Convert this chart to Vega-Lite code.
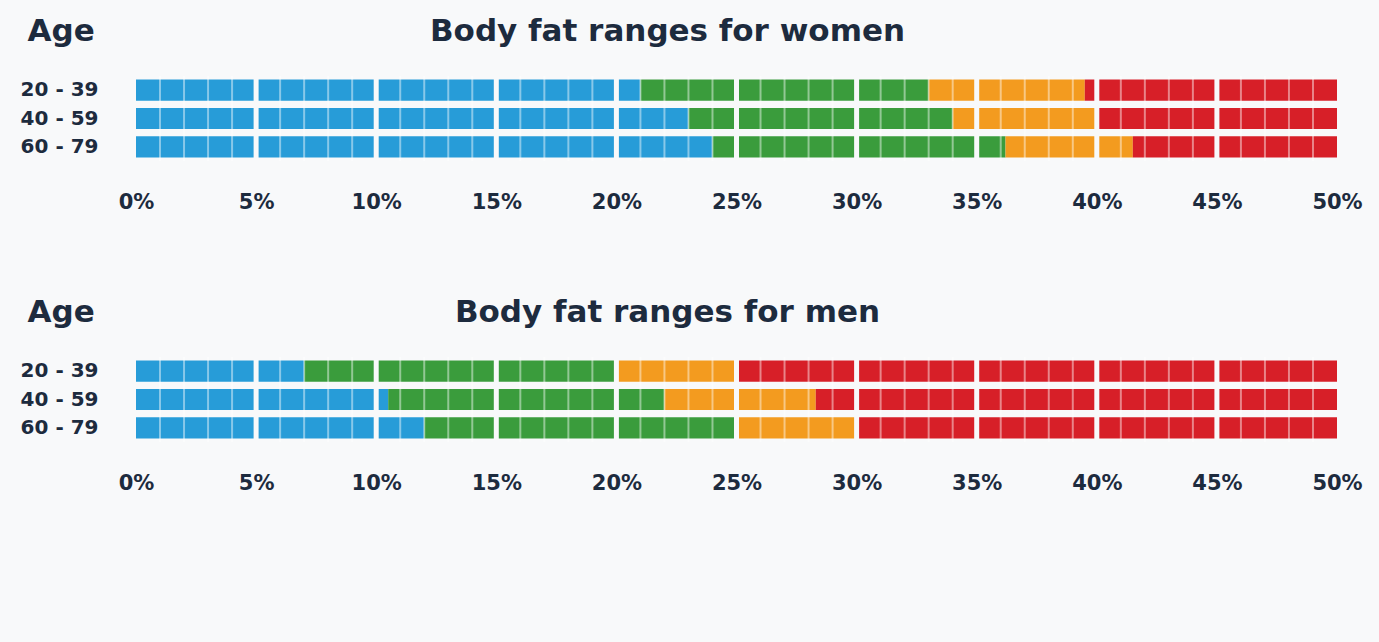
{
  "$schema": "https://vega.github.io/schema/vega-lite/v6.json",
  "background": "#f8f9fa",
  "padding": {"left": 20, "top": 15, "right": 17, "bottom": 149},
  "config": {"font": "DejaVu Sans", "view": {"stroke": null}},
  "bounds": "flush",
  "spacing": 196,
  "datasets": {
    "ranges": [
      {"group": "women", "age": "20 - 39", "level": "Underfat", "from": 0, "to": 21},
      {"group": "women", "age": "20 - 39", "level": "Healthy", "from": 21, "to": 33},
      {"group": "women", "age": "20 - 39", "level": "Overweight", "from": 33, "to": 39.5},
      {"group": "women", "age": "20 - 39", "level": "Obese", "from": 39.5, "to": 50},
      {"group": "women", "age": "40 - 59", "level": "Underfat", "from": 0, "to": 23},
      {"group": "women", "age": "40 - 59", "level": "Healthy", "from": 23, "to": 34},
      {"group": "women", "age": "40 - 59", "level": "Overweight", "from": 34, "to": 40},
      {"group": "women", "age": "40 - 59", "level": "Obese", "from": 40, "to": 50},
      {"group": "women", "age": "60 - 79", "level": "Underfat", "from": 0, "to": 24},
      {"group": "women", "age": "60 - 79", "level": "Healthy", "from": 24, "to": 36.2},
      {"group": "women", "age": "60 - 79", "level": "Overweight", "from": 36.2, "to": 41.5},
      {"group": "women", "age": "60 - 79", "level": "Obese", "from": 41.5, "to": 50},
      {"group": "men", "age": "20 - 39", "level": "Underfat", "from": 0, "to": 7},
      {"group": "men", "age": "20 - 39", "level": "Healthy", "from": 7, "to": 20},
      {"group": "men", "age": "20 - 39", "level": "Overweight", "from": 20, "to": 25},
      {"group": "men", "age": "20 - 39", "level": "Obese", "from": 25, "to": 50},
      {"group": "men", "age": "40 - 59", "level": "Underfat", "from": 0, "to": 10.5},
      {"group": "men", "age": "40 - 59", "level": "Healthy", "from": 10.5, "to": 22},
      {"group": "men", "age": "40 - 59", "level": "Overweight", "from": 22, "to": 28.3},
      {"group": "men", "age": "40 - 59", "level": "Obese", "from": 28.3, "to": 50},
      {"group": "men", "age": "60 - 79", "level": "Underfat", "from": 0, "to": 12},
      {"group": "men", "age": "60 - 79", "level": "Healthy", "from": 12, "to": 25},
      {"group": "men", "age": "60 - 79", "level": "Overweight", "from": 25, "to": 30},
      {"group": "men", "age": "60 - 79", "level": "Obese", "from": 30, "to": 50}
    ],
    "minorCuts": [
      {"pct": 1}, {"pct": 2}, {"pct": 3}, {"pct": 4},
      {"pct": 6}, {"pct": 7}, {"pct": 8}, {"pct": 9},
      {"pct": 11}, {"pct": 12}, {"pct": 13}, {"pct": 14},
      {"pct": 16}, {"pct": 17}, {"pct": 18}, {"pct": 19},
      {"pct": 21}, {"pct": 22}, {"pct": 23}, {"pct": 24},
      {"pct": 26}, {"pct": 27}, {"pct": 28}, {"pct": 29},
      {"pct": 31}, {"pct": 32}, {"pct": 33}, {"pct": 34},
      {"pct": 36}, {"pct": 37}, {"pct": 38}, {"pct": 39},
      {"pct": 41}, {"pct": 42}, {"pct": 43}, {"pct": 44},
      {"pct": 46}, {"pct": 47}, {"pct": 48}, {"pct": 49}
    ],
    "majorCuts": [
      {"pct": 5}, {"pct": 10}, {"pct": 15}, {"pct": 20}, {"pct": 25},
      {"pct": 30}, {"pct": 35}, {"pct": 40}, {"pct": 45}
    ]
  },
  "vconcat": [
    {
      "width": 1201,
      "height": 85,
      "title": {"text": "Body fat ranges for women", "fontSize": 31, "fontWeight": "bold", "color": "#1d2b3e", "anchor": "middle", "dx": -69, "baseline": "alphabetic", "offset": -57},
      "layer": [
        {
          "data": {"name": "ranges"},
          "transform": [{"filter": "datum.group === 'women'"}],
          "mark": {"type": "bar"},
          "encoding": {
            "y": {"field": "age", "type": "nominal", "sort": ["20 - 39", "40 - 59", "60 - 79"],
              "scale": {"paddingInner": 0.255, "paddingOuter": 0.1275},
              "axis": {"title": "Age", "titleAngle": 0, "titleAlign": "left", "titleBaseline": "alphabetic", "titleX": -109, "titleY": -36, "titleFontSize": 31, "titleFontWeight": "bold", "titleColor": "#1d2b3e",
                "labelFontSize": 20, "labelFontWeight": "bold", "labelColor": "#1d2b3e", "ticks": false, "domain": false, "labelPadding": 38}},
            "x": {"field": "from", "type": "quantitative", "scale": {"domain": [0, 50], "nice": false},
              "axis": {"values": [0, 5, 10, 15, 20, 25, 30, 35, 40, 45, 50], "labelExpr": "datum.value + '%'", "title": null, "ticks": false, "domain": false, "grid": false, "labelFlush": false, "labelOverlap": false,
                "labelFontSize": 21, "labelFontWeight": "bold", "labelColor": "#1d2b3e", "labelPadding": 41, "labelBaseline": "middle"}},
            "x2": {"field": "to"},
            "color": {"field": "level", "type": "nominal", "scale": {"domain": ["Underfat", "Healthy", "Overweight", "Obese"], "range": ["#279cd8", "#3a9c3c", "#f39b1f", "#d71f28"]}, "legend": null}
          }
        },
        {
          "data": {"name": "minorCuts"},
          "mark": {"type": "rule", "color": "#ffffff", "opacity": 0.45, "strokeWidth": 2},
          "encoding": {"x": {"field": "pct", "type": "quantitative"}}
        },
        {
          "data": {"name": "majorCuts"},
          "mark": {"type": "rule", "color": "#f8f9fa", "strokeWidth": 5},
          "encoding": {"x": {"field": "pct", "type": "quantitative"}}
        }
      ]
    },
    {
      "width": 1201,
      "height": 85,
      "title": {"text": "Body fat ranges for men", "fontSize": 31, "fontWeight": "bold", "color": "#1d2b3e", "anchor": "middle", "dx": -69, "baseline": "alphabetic", "offset": -57},
      "layer": [
        {
          "data": {"name": "ranges"},
          "transform": [{"filter": "datum.group === 'men'"}],
          "mark": {"type": "bar"},
          "encoding": {
            "y": {"field": "age", "type": "nominal", "sort": ["20 - 39", "40 - 59", "60 - 79"],
              "scale": {"paddingInner": 0.255, "paddingOuter": 0.1275},
              "axis": {"title": "Age", "titleAngle": 0, "titleAlign": "left", "titleBaseline": "alphabetic", "titleX": -109, "titleY": -36, "titleFontSize": 31, "titleFontWeight": "bold", "titleColor": "#1d2b3e",
                "labelFontSize": 20, "labelFontWeight": "bold", "labelColor": "#1d2b3e", "ticks": false, "domain": false, "labelPadding": 38}},
            "x": {"field": "from", "type": "quantitative", "scale": {"domain": [0, 50], "nice": false},
              "axis": {"values": [0, 5, 10, 15, 20, 25, 30, 35, 40, 45, 50], "labelExpr": "datum.value + '%'", "title": null, "ticks": false, "domain": false, "grid": false, "labelFlush": false, "labelOverlap": false,
                "labelFontSize": 21, "labelFontWeight": "bold", "labelColor": "#1d2b3e", "labelPadding": 41, "labelBaseline": "middle"}},
            "x2": {"field": "to"},
            "color": {"field": "level", "type": "nominal", "scale": {"domain": ["Underfat", "Healthy", "Overweight", "Obese"], "range": ["#279cd8", "#3a9c3c", "#f39b1f", "#d71f28"]}, "legend": null}
          }
        },
        {
          "data": {"name": "minorCuts"},
          "mark": {"type": "rule", "color": "#ffffff", "opacity": 0.45, "strokeWidth": 2},
          "encoding": {"x": {"field": "pct", "type": "quantitative"}}
        },
        {
          "data": {"name": "majorCuts"},
          "mark": {"type": "rule", "color": "#f8f9fa", "strokeWidth": 5},
          "encoding": {"x": {"field": "pct", "type": "quantitative"}}
        }
      ]
    }
  ]
}
